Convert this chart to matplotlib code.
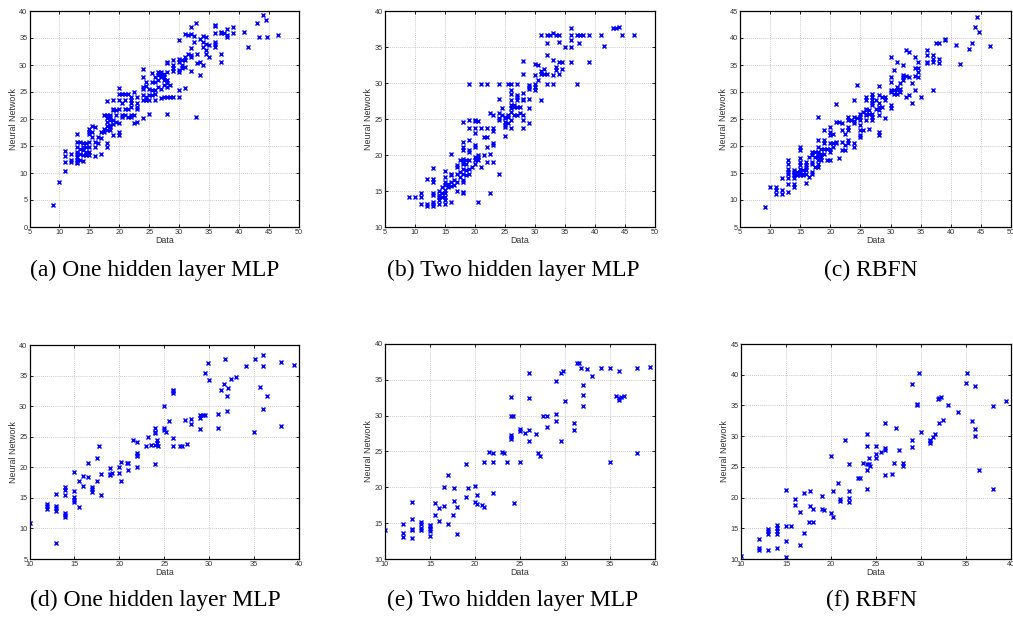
import matplotlib
matplotlib.use("Agg")
import matplotlib.pyplot as plt
import numpy as np

# ---------------- data ----------------
# (a) One hidden layer MLP, training data
a_x = [9, 10, 11, 11, 11, 11, 12, 12, 12,
       13, 13, 13, 13, 13, 13, 13, 13, 13,
       13.5, 13.5, 13.5, 13.5, 14, 14, 14, 14, 14,
       14.5, 14.5, 14.5, 14.5, 15, 15, 15, 15, 15, 15, 15,
       15.5, 15.5, 15.5, 16, 16, 16, 16, 16.5, 16.5,
       17, 17, 17, 17.5, 17.5, 17.5,
       18, 18, 18, 18, 18, 18, 18, 18,
       18.5, 18.5, 18.5, 18.5, 18.5, 18.5,
       19, 19, 19, 19, 19, 19, 19.5, 19.5, 19.5,
       20, 20, 20, 20, 20, 20, 20, 20.5, 20.5, 20.5, 20.5,
       21, 21, 21, 21, 21.5, 21.5, 21.5,
       22, 22, 22, 22, 22, 22, 22.5, 22.5, 22.5,
       23, 23, 23, 23, 23,
       24, 24, 24, 24, 24, 24, 24, 24.5, 24.5, 24.5, 24.5,
       25, 25, 25, 25, 25.5, 25.5, 25.5, 25.5,
       26, 26, 26, 26, 26, 26.5, 26.5, 26.5, 26.5,
       27, 27, 27, 27, 27, 27.5, 27.5, 27.5, 27.5, 27.5,
       28, 28, 28, 28, 28, 28, 28, 28, 28.5, 28.5,
       29, 29, 29, 29, 29,
       30, 30, 30, 30, 30, 30, 30, 30.5, 30.5, 30.5,
       31, 31, 31, 31, 31, 31.5, 31.5,
       32, 32, 32, 32, 32, 32, 32.5, 32.5, 32.8, 32.8, 33, 33,
       33.5, 33.5, 33.5, 34, 34, 34, 34, 34.5, 34.5, 34.5, 34.5,
       35, 35, 36, 36, 36, 36, 36, 36, 37, 37, 37, 37, 37.5,
       38, 38, 38, 39, 39, 40.8, 41.5, 43, 43.3, 44, 44.5, 44.6, 46.5]
a_y = [4.0, 8.3, 10.3, 14.1, 13.1, 12.0, 13.5, 12.5, 12.1,
       17.3, 15.8, 14.8, 13.9, 13.5, 13.0, 12.5, 12.1, 11.9,
       15.8, 14.5, 13.5, 12.5, 12.2, 15.6, 14.8, 14.2, 13.3,
       15.5, 14.8, 13.9, 13.3, 18.2, 17.6, 17.3, 15.8, 14.8, 13.9, 13.3,
       18.7, 17.6, 16.7, 18.6, 15.8, 14.8, 13.2, 16.7, 15.5,
       13.5, 16.4, 17.6, 18.2, 17.6, 20.7,
       23.4, 20.7, 20.1, 19.5, 18.7, 17.9, 15.5, 14.8,
       20.7, 20.4, 19.8, 18.9, 18.5, 17.9,
       23.5, 21.9, 21.6, 17.0, 19.8, 19.0, 21.6, 20.7, 19.5,
       25.8, 24.7, 23.5, 21.9, 19.2, 17.6, 17.0, 24.7, 22.9, 20.7, 20.4,
       24.7, 23.6, 21.9, 20.7, 24.6, 21.9, 20.4,
       24.1, 23.5, 22.9, 22.2, 20.7, 20.4, 25.0, 20.7, 19.2,
       24.1, 22.9, 22.2, 21.9, 19.5,
       29.2, 27.7, 26.0, 25.5, 24.4, 23.6, 20.1, 26.9, 26.1, 24.1, 23.5,
       25.5, 24.4, 23.5, 21.0, 28.6, 26.9, 25.3, 24.4,
       27.8, 26.9, 25.3, 24.7, 23.6, 28.7, 28.1, 27.2, 26.0,
       28.7, 28.1, 27.7, 25.6, 23.8, 28.4, 27.8, 27.2, 26.3, 24.1,
       30.6, 30.3, 28.7, 27.2, 26.6, 26.0, 24.1, 20.9, 26.3, 24.1,
       30.9, 30.0, 29.4, 28.9, 24.0,
       34.6, 31.2, 30.6, 29.0, 28.7, 25.3, 24.1, 31.0, 30.0, 29.4,
       35.8, 31.5, 30.9, 29.7, 25.8, 35.5, 32.1,
       37.1, 35.8, 33.1, 31.8, 31.5, 28.9, 35.3, 34.3, 37.8, 20.3, 30.3, 32.1,
       34.9, 30.6, 28.1, 35.3, 34.3, 33.4, 30.0, 35.2, 33.9, 32.7, 32.1,
       33.7, 31.4, 37.4, 37.2, 36.0, 34.3, 33.9, 33.4, 36.2, 35.9, 32.1, 30.6, 36.0,
       36.6, 35.5, 35.2, 37.0, 36.0, 36.1, 33.4, 37.7, 35.2, 39.2, 38.4, 35.2, 35.5]

# (b) Two hidden layer MLP, training data
b_x = [9, 10, 11, 11, 11, 12, 12, 12,
       13, 13, 13, 13, 13, 13, 13, 13,
       14, 14, 14, 14, 14, 14.5, 14.5, 14.5,
       15, 15, 15, 15, 15, 15, 15, 15, 15, 15.5, 15.5,
       16, 16, 16, 16, 16, 16, 16.5, 16.5,
       17, 17, 17, 17, 17, 17.5, 17.5, 17.5,
       18, 18, 18, 18, 18, 18, 18, 18, 18, 18, 18, 18, 18,
       18.5, 18.5, 18.5, 18.5,
       19, 19, 19, 19, 19, 19, 19, 19, 19, 19.5,
       20, 20, 20, 20, 20, 20, 20, 20, 20,
       20.5, 20.5, 20.5, 20.5, 20.5, 21, 21, 21, 21.5, 21.5,
       22, 22, 22, 22, 22, 22.5, 22.5, 22.5,
       23, 23, 23, 23, 23, 23,
       24, 24, 24, 24, 24, 24, 24.5, 24.5,
       25, 25, 25, 25, 25, 25, 25.5, 25.5, 25.5, 25.5,
       26, 26, 26, 26, 26, 26, 26, 26, 26, 26.5, 26.5, 26.5,
       27, 27, 27, 27, 27, 27, 27.5, 27.5,
       28, 28, 28, 28, 28, 28, 28, 28,
       29, 29, 29, 29, 29, 29,
       30, 30, 30, 30, 30, 30.5, 30.5,
       31, 31, 31, 31, 31.5, 31.5,
       32, 32, 32, 32, 32, 32.5, 33, 33, 33, 33,
       33.5, 33.5, 33.5, 34, 34, 34, 34, 34.5, 34.5, 35,
       36, 36, 36, 36, 36, 37, 37, 37.3, 37.5, 38, 39, 39,
       41, 41.5, 43, 43.5, 44, 44.5, 46.5]
b_y = [14.2, 14.2, 14.7, 14.2, 13.2, 16.7, 13.2, 12.9,
       18.2, 16.7, 16.3, 14.7, 14.5, 13.5, 13.2, 12.9,
       15.0, 14.4, 14.2, 13.7, 13.2, 15.6, 14.7, 14.2,
       17.8, 17.0, 16.3, 15.8, 15.1, 14.7, 14.2, 13.7, 13.2, 16.0, 15.6,
       20.2, 17.4, 17.2, 16.3, 15.7, 13.5, 16.5, 15.8,
       18.6, 18.3, 17.4, 16.3, 15.0, 19.3, 17.7, 17.0,
       24.6, 21.8, 21.1, 20.7, 19.4, 19.0, 18.8, 18.1, 17.4, 16.5, 16.3, 14.9, 14.7,
       19.3, 18.8, 17.9, 17.2,
       29.9, 24.8, 23.7, 22.1, 20.7, 20.4, 19.3, 18.1, 17.4, 18.3,
       24.9, 24.7, 23.7, 23.0, 21.4, 21.1, 19.7, 19.3, 18.8,
       24.7, 20.0, 19.7, 19.3, 13.5, 29.9, 23.7, 18.3, 22.5, 20.0,
       29.9, 23.7, 22.5, 21.1, 19.0, 25.8, 20.2, 14.7,
       25.5, 23.7, 23.4, 21.6, 21.4, 19.0,
       29.9, 27.8, 25.8, 25.1, 24.8, 17.4, 26.5, 25.5,
       25.3, 25.1, 24.6, 24.1, 23.9, 22.6, 29.9, 25.5, 25.3, 24.4,
       29.9, 29.0, 28.5, 27.6, 26.9, 26.5, 26.0, 24.8, 23.7, 26.9, 26.7, 25.5,
       29.9, 28.3, 28.1, 27.6, 26.7, 25.5, 26.7, 25.8,
       33.0, 31.2, 28.6, 27.8, 27.6, 25.5, 24.8, 23.7,
       29.7, 29.5, 29.2, 27.8, 26.5, 24.4,
       32.7, 31.1, 29.9, 29.5, 29.0, 32.5, 30.4,
       36.7, 31.6, 31.3, 27.6, 32.0, 31.2,
       36.7, 35.5, 33.9, 31.3, 29.9, 36.7, 37.0, 33.2, 31.1, 29.9,
       36.7, 32.2, 31.8, 36.7, 35.7, 32.9, 31.3, 32.9, 32.0, 35.0,
       37.6, 36.7, 36.0, 35.0, 32.9, 36.7, 29.9, 35.5, 36.7, 36.7, 36.7, 32.9,
       36.7, 35.1, 37.7, 37.7, 37.8, 36.7, 36.7]

# (c) RBFN, training data
c_x = [9.1, 10, 11, 11, 11, 12, 12, 12,
       13, 13, 13, 13, 13, 13, 13, 13,
       14, 14, 14, 14, 14, 14, 14, 14.5, 14.5,
       15, 15, 15, 15, 15, 15, 15, 15, 15.5, 15.5, 15.5,
       16, 16, 16, 16, 16, 16, 16.5, 16.5,
       17, 17, 17, 17, 17, 17, 17.5, 17.5, 17.5,
       18, 18, 18, 18, 18, 18, 18, 18, 18, 18.5, 18.5, 18.5, 18.5,
       19, 19, 19, 19, 19, 19.5, 19.5,
       20, 20, 20, 20, 20, 20, 20, 20.5, 20.5, 20.5,
       21, 21, 21, 21, 21.5, 21.5, 22, 22, 22, 22, 22.5, 22.5, 22.5,
       23, 23, 23, 23, 23, 23, 23.5,
       24, 24, 24, 24, 24, 24, 24.5, 24.5,
       25, 25, 25, 25, 25, 25, 25, 25.5, 25.5,
       26, 26, 26, 26, 26, 26, 26, 26.5, 26.5, 26.5,
       27, 27, 27, 27, 27, 27, 27, 27, 27.5, 27.5,
       28, 28, 28, 28, 28, 28, 28, 28, 28.5, 28.5, 29, 29, 29,
       30, 30, 30, 30, 30, 30, 30, 30.5, 30.5, 30.5,
       31, 31, 31, 31, 31.5, 31.5, 31.5, 32, 32, 32, 32,
       32.5, 32.5, 32.5, 33, 33, 33, 33.5, 33.5,
       34, 34, 34, 34, 34.5, 34.5, 34.5, 34.5, 35,
       36, 36, 36, 36, 37, 37, 37, 37, 37.5, 38, 38, 38, 39, 39,
       40.8, 41.5, 43, 43.5, 44, 44.3, 44.7, 46.5]
c_y = [8.7, 12.4, 12.4, 11.8, 11.1, 14.1, 11.8, 11.1,
       17.4, 16.7, 15.8, 15.2, 14.9, 14.0, 13.0, 11.5,
       15.5, 15.2, 14.9, 14.6, 14.0, 13.0, 12.4, 15.2, 14.6,
       19.8, 19.3, 17.7, 17.1, 16.4, 15.8, 15.2, 14.6, 15.5, 14.9, 14.6,
       17.1, 16.4, 16.1, 15.5, 14.9, 13.2, 18.0, 14.3,
       18.9, 18.3, 17.1, 16.7, 15.2, 14.9, 18.9, 18.0, 16.1,
       25.3, 21.1, 19.8, 18.9, 18.6, 18.0, 17.4, 16.7, 16.1, 19.5, 18.6, 18.0, 17.4,
       22.9, 21.1, 20.5, 19.5, 18.6, 19.5, 17.4,
       23.5, 22.6, 22.0, 20.5, 19.5, 18.9, 17.5, 22.3, 20.5, 19.8,
       27.7, 24.5, 20.8, 20.5, 24.5, 17.7, 24.2, 22.9, 20.8, 19.2, 22.3, 20.1, 19.2,
       25.4, 24.8, 23.5, 22.9, 21.1, 20.5, 24.8,
       28.5, 25.4, 24.7, 24.2, 20.5, 19.8, 31.3, 25.1,
       26.0, 25.4, 24.8, 23.9, 22.9, 22.0, 21.6, 26.3, 22.9,
       29.1, 28.5, 26.9, 26.6, 26.0, 25.7, 24.8, 26.6, 26.0, 23.2,
       29.7, 29.1, 28.5, 27.9, 27.6, 26.0, 25.4, 24.8, 28.5, 26.9,
       31.1, 29.4, 27.9, 27.2, 26.6, 25.7, 22.6, 22.0, 29.1, 27.2, 29.1, 28.5, 25.1,
       36.5, 32.8, 31.9, 30.3, 30.0, 27.6, 27.0, 34.0, 30.3, 29.7,
       35.6, 31.0, 30.3, 29.7, 31.6, 30.6, 30.0, 35.0, 33.1, 32.8, 32.2,
       37.8, 32.9, 29.1, 37.5, 32.8, 29.4, 31.6, 27.9,
       36.5, 34.4, 32.9, 30.3, 35.6, 34.4, 33.7, 32.8, 29.1,
       37.8, 36.8, 35.6, 35.3, 36.8, 36.2, 35.6, 30.3, 39.0, 39.0, 36.2, 35.3, 39.9, 39.6,
       38.7, 35.1, 37.9, 39.0, 42.1, 43.8, 41.2, 38.6]

# (d) One hidden layer MLP, test data
d_x = [10.1, 12, 12, 12, 13, 13, 13, 13, 13,
       14, 14, 14, 14, 14, 14, 15, 15, 15, 15, 15,
       15.5, 15.5, 16, 16, 16.5, 16.5, 17, 17, 17, 17.5, 17.5, 17.7,
       18, 18, 19, 19, 19, 19.2, 20, 20, 20.2, 20.2, 20.8, 21, 21,
       21.5, 22, 22, 22, 22, 22, 23, 23.2, 23.5,
       24, 24, 24, 24, 24, 24.2, 24.2, 24.3, 25, 25, 25, 25.2, 25.5,
       26, 26, 26, 26, 26, 26.8, 27, 27.3, 27.5, 28, 28,
       29, 29, 29, 29.3, 29.5, 29.5, 29.9, 30, 31, 31, 31.3, 31.6, 31.8,
       32, 32, 32.1, 32.4, 33, 34.1, 35, 35.1, 35.7, 36, 36, 36, 36.4,
       38, 38, 39.4]
d_y = [10.9, 14.0, 13.6, 13.2, 15.7, 13.7, 13.3, 12.9, 7.6,
       16.7, 16.3, 15.5, 12.5, 12.2, 11.9, 19.3, 16.2, 15.1, 14.7, 14.3,
       17.8, 13.5, 18.5, 16.9, 20.7, 18.4, 16.8, 16.4, 15.9, 17.7, 21.5, 23.4,
       18.9, 15.4, 19.9, 18.9, 18.8, 19.1, 20.0, 19.0, 20.8, 17.8, 20.7, 20.7, 19.6,
       24.4, 24.2, 22.3, 22.0, 21.9, 20.1, 23.5, 25.0, 23.7,
       26.4, 25.8, 25.6, 23.7, 20.6, 24.4, 24.0, 23.4, 30.1, 26.4, 26.1, 25.8, 27.5,
       32.7, 32.4, 32.2, 24.8, 23.5, 23.5, 23.5, 27.8, 23.8, 27.9, 27.1,
       28.6, 28.0, 26.3, 28.6, 35.5, 28.6, 37.0, 34.2, 28.7, 26.4, 32.7, 33.7, 37.7,
       31.7, 29.2, 32.9, 34.4, 34.8, 36.5, 25.8, 37.7, 33.2, 38.3, 36.5, 29.6, 31.7,
       37.2, 26.8, 36.8]

# (e) Two hidden layer MLP, test data
e_x = [10, 12, 12, 12, 13, 13, 13, 13, 13,
       14, 14, 14, 14, 15, 15, 15, 15, 15,
       15.5, 15.5, 16, 16, 16.5, 16.5, 17, 17, 17.5, 17.7, 17.7, 18, 18,
       19, 19, 19.2, 20, 20, 20.2, 20.2, 20.8, 21, 21, 21.5, 22, 22, 22,
       23, 23.2, 23.5, 24, 24, 24, 24, 24, 24.2, 24.3,
       25, 25, 25, 25.5, 26, 26, 26, 26, 26.8, 27, 27.2, 27.5, 28, 28,
       29, 29, 29, 29.5, 29.5, 29.8, 30, 31, 31, 31.3, 31.6, 31.8,
       32, 32, 32, 32.4, 33, 34, 35, 35, 35.7, 36, 36, 36, 36.2, 36.5,
       38, 38, 39.4]
e_y = [14.1, 14.9, 13.6, 13.1, 18.0, 15.6, 14.2, 14.0, 12.9,
       15.2, 14.9, 14.3, 14.1, 14.8, 14.6, 14.2, 13.9, 13.2,
       17.8, 16.2, 17.1, 15.3, 20.1, 17.4, 21.7, 14.9, 16.1, 19.9, 18.1, 17.3, 13.5,
       23.3, 18.7, 19.9, 20.2, 17.9, 18.9, 17.7, 17.5, 23.6, 17.3, 24.9, 24.8, 23.6, 19.2,
       24.9, 24.8, 23.6, 32.6, 30.0, 27.3, 27.0, 26.7, 30.0, 17.8,
       28.1, 27.8, 23.6, 27.6, 36.0, 32.5, 28.0, 26.4, 27.4, 24.8, 24.4, 29.9, 30.0, 28.4,
       34.8, 30.2, 29.2, 35.9, 26.5, 36.3, 32.0, 29.0, 28.0, 37.3, 37.3, 36.7,
       34.3, 32.9, 31.3, 36.5, 35.5, 36.6, 36.6, 23.5, 32.8, 36.2, 32.5, 32.2, 32.6, 32.7,
       36.6, 24.8, 36.8]

# (f) RBFN, test data
f_x = [10, 12, 12, 12, 13, 13, 13, 13,
       14, 14, 14, 14, 14, 15, 15, 15, 15, 15.5,
       16, 16, 16.5, 16.5, 17, 17, 17.5, 17.7, 17.7, 18, 18,
       19, 19, 19.2, 20, 20, 20.2, 20.2, 20.8, 21, 21, 21.5,
       22, 22, 22, 22, 23, 23.2, 23.5,
       24, 24, 24, 24, 24, 24.2, 24.2, 24.3, 25, 25, 25, 25.5,
       26, 26, 26, 26, 26.8, 27, 27.2, 27.5, 28, 28,
       29, 29, 29, 29.5, 29.5, 29.8, 30, 31, 31, 31, 31.3, 31.6, 31.9,
       32, 32, 32.2, 32.4, 33, 34.1, 35, 35.1, 35.7, 36, 36, 36, 36.4,
       38, 38, 39.4]
f_y = [10.5, 13.3, 11.8, 11.4, 14.9, 14.5, 14.1, 11.5,
       15.6, 15.0, 14.5, 14.1, 11.8, 21.3, 15.4, 13.0, 10.4, 15.4,
       19.8, 18.8, 17.6, 12.3, 20.7, 14.2, 16.0, 21.0, 18.7, 18.2, 16.1,
       20.2, 18.2, 17.9, 26.7, 17.5, 21.0, 16.9, 22.4, 19.8, 19.4, 29.3,
       25.5, 21.1, 20.0, 19.2, 23.2, 23.2, 25.6,
       30.3, 28.4, 25.4, 24.5, 21.4, 26.5, 25.4, 25.2, 28.4, 27.1, 26.5, 27.5,
       32.1, 28.1, 27.7, 23.6, 23.9, 25.6, 31.3, 27.8, 25.6, 25.2,
       38.5, 29.3, 28.2, 35.2, 35.0, 40.3, 30.6, 29.4, 29.2, 28.9, 29.9, 30.4, 36.1,
       32.1, 36.2, 36.3, 32.6, 35.0, 34.0, 38.6, 40.3, 32.4, 38.1, 31.1, 30.1, 24.5,
       34.9, 21.4, 35.8]

captions = ["(a) One hidden layer MLP", "(b) Two hidden layer MLP", "(c) RBFN",
            "(d) One hidden layer MLP", "(e) Two hidden layer MLP", "(f) RBFN"]
xlims = [(5, 50), (5, 50), (5, 50), (10, 40), (10, 40), (10, 40)]
ylims = [(0, 40), (10, 40), (5, 45), (5, 40), (10, 40), (10, 45)]
xlabel = "Data"
ylabel = "Neural Network"

series = [(a_x, a_y), (b_x, b_y), (c_x, c_y), (d_x, d_y), (e_x, e_y), (f_x, f_y)]

# ---------------- layout ----------------
W, H = 1013, 626
fig = plt.figure(figsize=(W / 100, H / 100), dpi=100)
plt.rcParams['font.family'] = ['Liberation Sans', 'DejaVu Sans']

# axes boxes in pixels: (left, top, right, bottom)
boxes = [(29.5, 11, 299, 227), (385, 11, 655, 227), (740, 11, 1011, 227),
         (29.5, 345, 299, 559), (385, 344, 655, 559), (741, 344, 1011, 559)]
cap_pos = [(155, 270), (513, 270), (871, 270), (155, 600), (513, 600), (871, 600)]

for i, ((l, t, r, b), (xs, ys)) in enumerate(zip(boxes, series)):
    ax = fig.add_axes([l / W, 1 - b / H, (r - l) / W, (b - t) / H])
    ax.plot(xs, ys, linestyle='none', marker='x', color='#0000ff',
            markersize=3.3, markeredgewidth=1.05)
    ax.set_xlim(*xlims[i])
    ax.set_ylim(*ylims[i])
    ax.set_xticks(np.arange(xlims[i][0], xlims[i][1] + 0.1, 5))
    ax.set_yticks(np.arange(ylims[i][0], ylims[i][1] + 0.1, 5))
    ax.grid(True, linestyle=(0, (1, 1.5)), color='#b8b8b8', linewidth=0.6)
    ax.set_axisbelow(True)
    ax.tick_params(direction='in', length=2.5, width=0.6, labelsize=5.3,
                   pad=1.5, top=True, right=True, colors='black', labelcolor='#333333')
    for s in ax.spines.values():
        s.set_linewidth(0.9)
    ax.set_xlabel(xlabel, fontsize=6.4, labelpad=0, color='#333333')
    ax.set_ylabel(ylabel, fontsize=6.4, labelpad=1, color='#333333')
    fig.text(cap_pos[i][0] / W, 1 - cap_pos[i][1] / H, captions[i],
             ha='center', va='center', fontsize=17, family=['Liberation Serif'])

fig.savefig("out.png", dpi=100)
